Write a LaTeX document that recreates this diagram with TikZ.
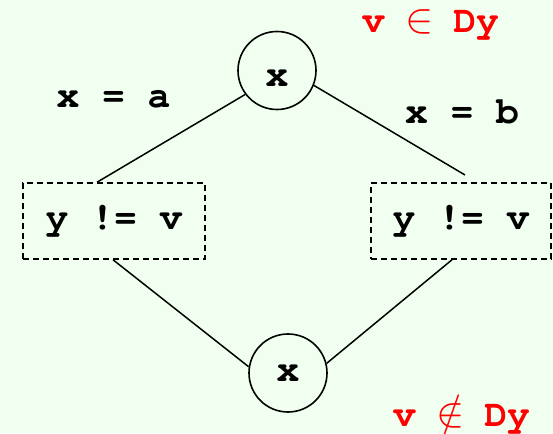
\documentclass[tikz,border=0pt]{standalone}
\usepackage[T1,TU]{fontenc}
\usepackage{tikz}
\usepackage{amsmath,amssymb}
\usepackage{xcolor}
\usetikzlibrary{positioning,calc}
\definecolor{bgreen}{RGB}{240,255,240}
\definecolor{domred}{RGB}{255,0,0}
\newcommand{\cour}{\fontencoding{T1}\fontfamily{pcr}\fontseries{b}\fontsize{38}{42}\selectfont}
\newcommand{\bigsym}[1]{\makebox[0.6em]{\scalebox{1.7}{$#1$}}}

\begin{document}
\begin{tikzpicture}[x=1pt, y=1pt,
    varnode/.style={draw, circle, line width=1.6pt, minimum size=78pt, inner sep=0pt, font=\cour},
    testbox/.style={draw, dashed, dash pattern=on 6pt off 4pt, line width=1.5pt, minimum height=76pt, inner sep=0pt, font=\cour},
    edgelbl/.style={anchor=base, inner sep=0pt, font=\cour},
    domlbl/.style={anchor=base, inner sep=0pt, text=domred, font=\cour},
    link/.style={line width=1.5pt}]
    \fill[bgreen] (0,0) rectangle (553,433);
    \useasboundingbox (0,0) rectangle (553,433);

    \node[varnode, text height=32.4pt, text depth=0pt] (top) at (277,362.5) {x};
    \node[varnode] (bot) at (288,60) {x};
    \node[testbox, minimum width=182pt] (lbox) at (114,212) {y != v};
    \node[testbox, minimum width=180pt] (rbox) at (461,212) {y != v};

    \node[edgelbl] (xa) at (113.5,325) {x = a};
    \node[edgelbl] (xb) at (462,309.7) {x = b};
    \node[domlbl] (indom) at (430.5,400) {v \bigsym{\in} Dy};
    \node[domlbl] (outdom) at (461.5,6.8) {v \bigsym{\notin} Dy};

    \coordinate (rtop) at (465,258);
    \draw[link] (top.217) -- ([xshift=-17pt]lbox.north);
    \draw[link] (top.338) -- (rtop);
    \draw[link] ([xshift=-1pt]lbox.south) -- (bot.171);
    \draw[link] ([xshift=-9pt]rbox.south) -- (bot.14);
\end{tikzpicture}
\end{document}
